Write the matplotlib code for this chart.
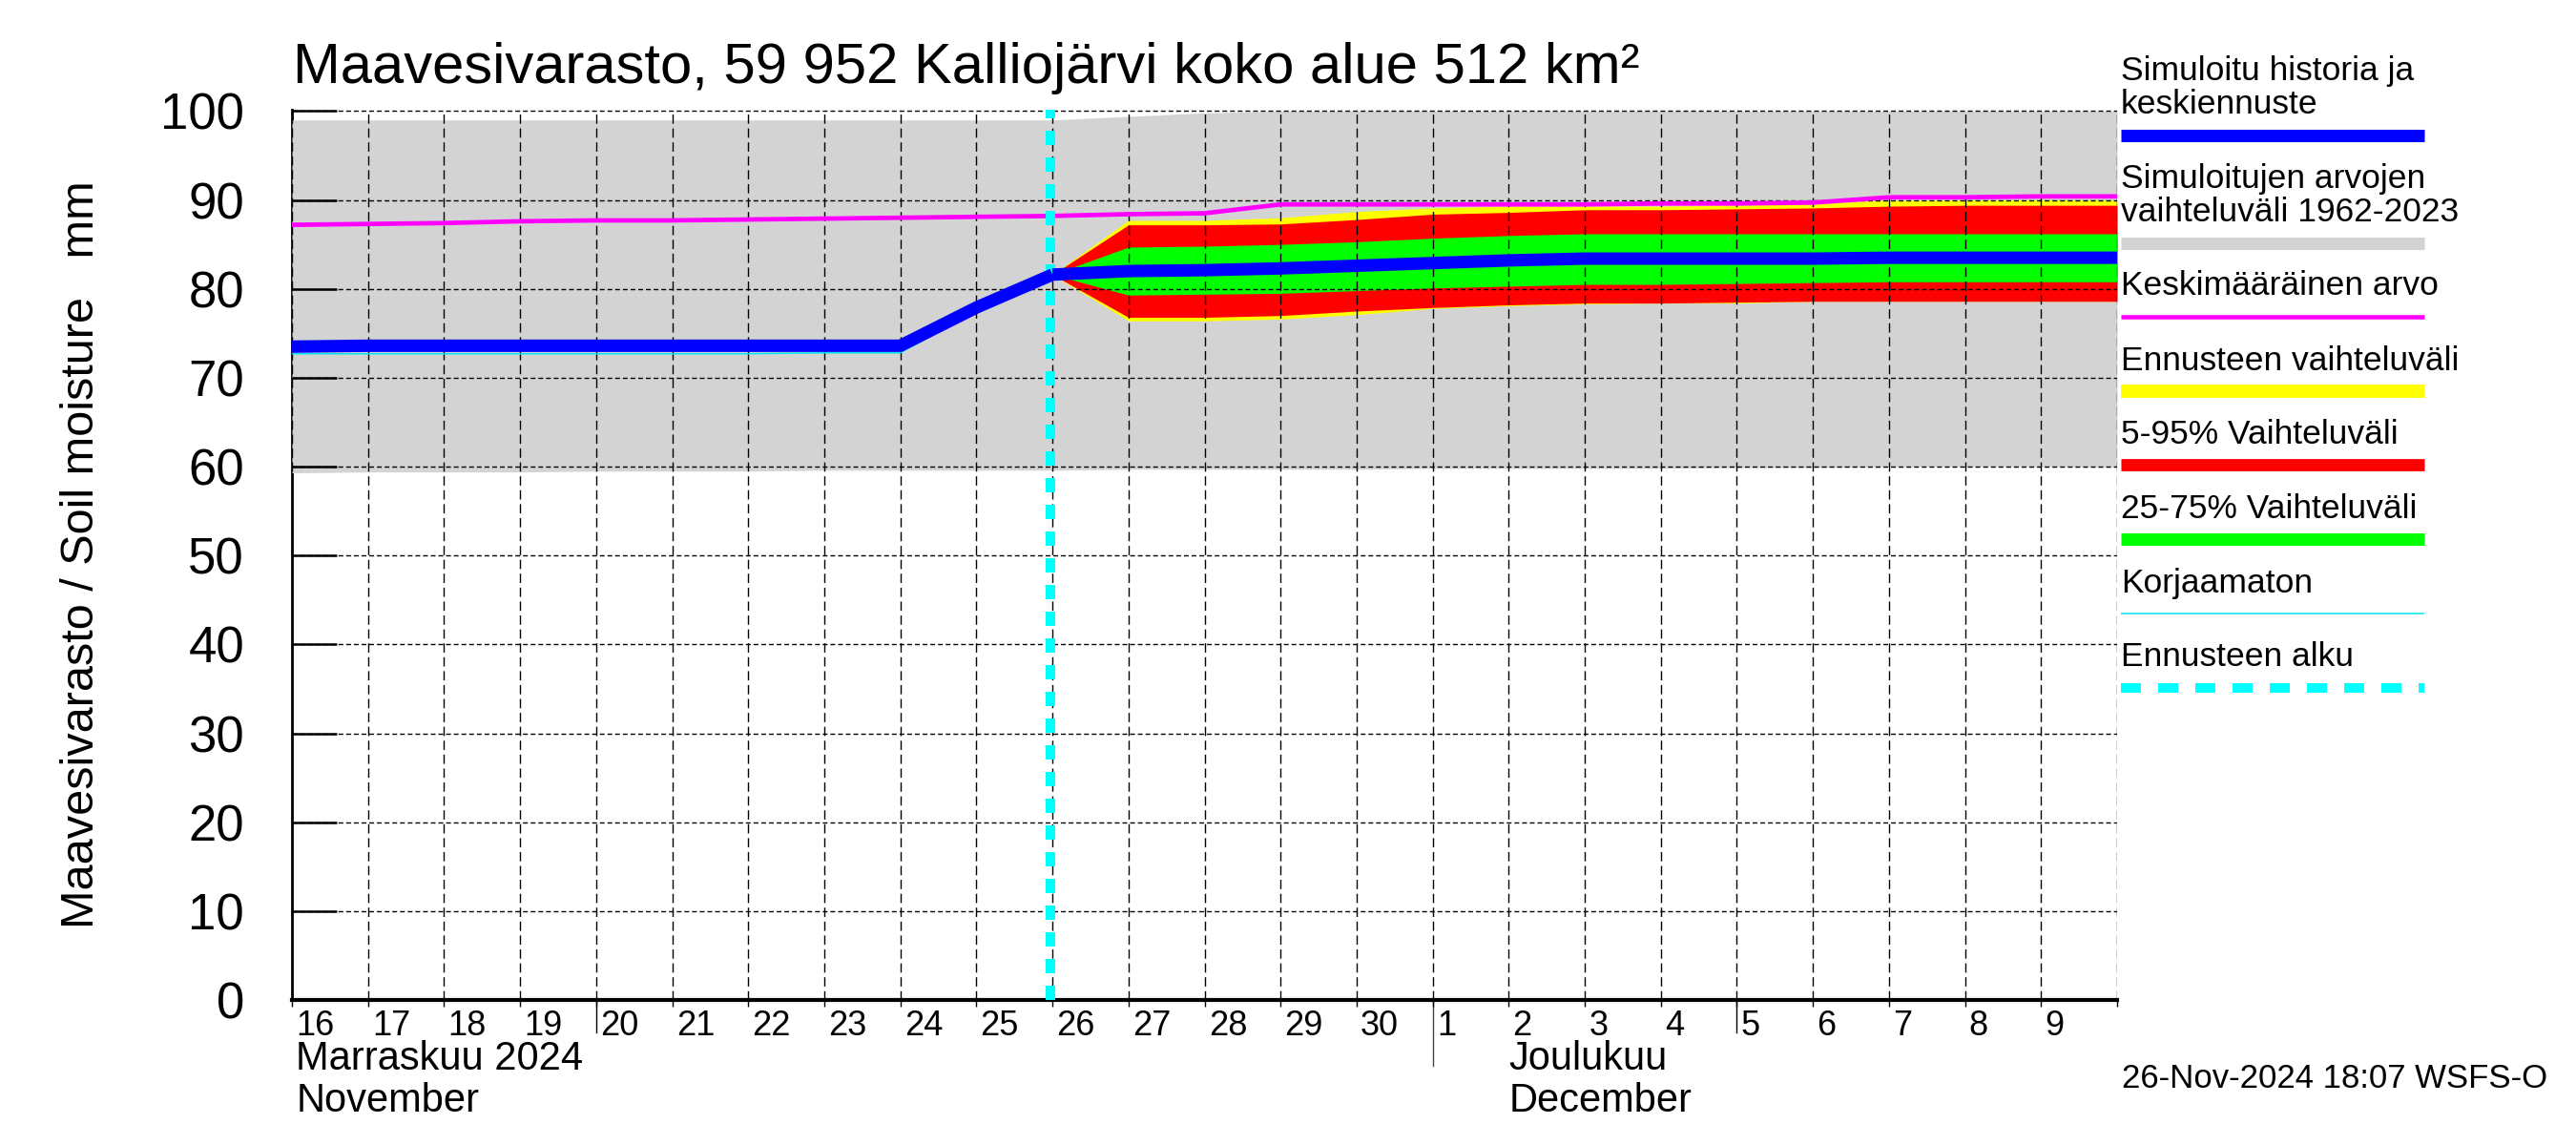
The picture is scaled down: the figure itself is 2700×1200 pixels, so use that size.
import matplotlib
matplotlib.use("Agg")
import matplotlib.pyplot as plt
import matplotlib.transforms as mtransforms
from matplotlib.lines import Line2D

plt.rcParams['font.family'] = ['Liberation Sans', 'DejaVu Sans']

# day 0 = 16 Nov 2024, day 24 = 10 Dec 2024
days = list(range(25))
day_labels = ['16', '17', '18', '19', '20', '21', '22', '23', '24', '25', '26', '27', '28', '29', '30',
              '1', '2', '3', '4', '5', '6', '7', '8', '9']

# simulated range 1962-2023 (grey)
range_top = [99.0, 99.0, 99.0, 99.0, 99.0, 99.0, 99.0, 99.0, 99.0, 99.0, 99.0, 99.4, 99.8,
             100, 100, 100, 100, 100, 100, 100, 100, 100, 100, 100, 100]
range_bot = [59.3, 59.4, 59.4, 59.4, 59.5, 59.5, 59.5, 59.6, 59.6, 59.6, 59.6, 59.7, 59.7,
             59.7, 59.7, 59.8, 59.8, 59.8, 59.8, 59.9, 59.9, 60.0, 60.0, 60.0, 60.0]
# mean value (magenta)
mean_val = [87.2, 87.3, 87.4, 87.6, 87.7, 87.7, 87.8, 87.9, 88.0, 88.1, 88.2, 88.4, 88.5,
            89.5, 89.5, 89.5, 89.5, 89.5, 89.6, 89.6, 89.7, 90.3, 90.3, 90.4, 90.4]

# simulated history
hist_days = list(range(11))
hist = [73.5, 73.6, 73.6, 73.6, 73.6, 73.6, 73.6, 73.6, 73.6, 77.9, 81.6]
uncorr = [72.7, 72.7, 72.7, 72.7, 72.7, 72.7, 72.7, 72.8, 72.8, 77.5, 81.6]

# forecast
fc_days = list(range(10, 25))
fc_mid = [81.6, 82.0, 82.1, 82.3, 82.6, 82.9, 83.2, 83.4, 83.4, 83.4, 83.4, 83.5, 83.5, 83.5, 83.5]
fc_max = [81.6, 87.7, 87.7, 88.0, 88.7, 89.1, 89.3, 89.3, 89.3, 89.4, 89.6, 90.0, 90.0, 90.0, 90.0]
fc_p95 = [81.6, 87.2, 87.2, 87.3, 87.8, 88.4, 88.6, 88.9, 88.9, 89.0, 89.1, 89.3, 89.4, 89.4, 89.4]
fc_p75 = [81.6, 84.7, 84.8, 85.0, 85.3, 85.7, 86.0, 86.2, 86.2, 86.2, 86.2, 86.2, 86.2, 86.2, 86.2]
fc_p25 = [81.6, 79.3, 79.4, 79.5, 79.8, 80.1, 80.3, 80.5, 80.5, 80.6, 80.7, 80.8, 80.8, 80.8, 80.8]
fc_p05 = [81.6, 76.8, 76.8, 77.0, 77.5, 77.9, 78.2, 78.4, 78.4, 78.5, 78.6, 78.6, 78.6, 78.6, 78.6]
fc_min = [81.6, 76.4, 76.4, 76.6, 77.1, 77.8, 78.1, 78.3, 78.4, 78.4, 78.6, 78.6, 78.6, 78.6, 78.6]
fc_start = 9.97

W, H = 2700, 1200
fig = plt.figure(figsize=(27, 12), dpi=100)
ax = fig.add_axes([306 / W, 1 - 1048 / H, (2219 - 306) / W, (1048 - 115) / H])

ax.fill_between(days, range_bot, range_top, color='#d3d3d3', lw=0, zorder=1)
ax.fill_between(fc_days, fc_min, fc_max, color='#ffff00', lw=0, zorder=1.2)
ax.fill_between(fc_days, fc_p05, fc_p95, color='#ff0000', lw=0, zorder=1.3)
ax.fill_between(fc_days, fc_p25, fc_p75, color='#00ff00', lw=0, zorder=1.4)

ax.plot(days, mean_val, color='#ff00ff', lw=3.4, zorder=3)
ax.plot(hist_days, uncorr, color='#00e5ee', lw=1.1, zorder=3.5)
ax.plot(hist_days, hist, color='#0000ff', lw=9.4, zorder=6, solid_capstyle='butt')
ax.plot(fc_days, fc_mid, color='#0000ff', lw=9.4, zorder=6, solid_capstyle='butt')
ax.axvline(fc_start, color='#00ffff', lw=7.2, dashes=(1.5, 1.3), zorder=5)

ax.set_xlim(0, 24)
ax.set_ylim(0, 100.15)
ax.set_xticks(days)
ax.set_xticklabels([])
ax.set_yticks(range(0, 101, 10))
ax.set_axisbelow(False)
ax.grid(axis='x', color='black', lw=1.0, linestyle=(0, (7, 3.5)))
ax.grid(axis='y', color='black', lw=1.0, linestyle=(0, (3.6, 2.2)))
ax.tick_params(axis='y', direction='in', length=34, width=1.8, pad=36, labelsize=38)
ax.tick_params(axis='x', direction='out', length=5, width=1.0)

for s in ['top', 'right']:
    ax.spines[s].set_visible(False)
ax.spines['left'].set_linewidth(2.0)
ax.spines['left'].set_zorder(0.5)
ax.spines['bottom'].set_linewidth(3.0)
ax.spines['bottom'].set_zorder(4)

# date labels under the axis
trans = mtransforms.blended_transform_factory(ax.transData, ax.transAxes)
lab_trans = mtransforms.offset_copy(trans, fig=fig, x=3, y=0, units='points')
for d, lab in zip(days, day_labels):
    ax.text(d, -0.011, lab, transform=lab_trans, ha='left', va='top', fontsize=26)

ax.text(0, -0.078, 'Marraskuu 2024', transform=lab_trans, ha='left', va='baseline', fontsize=30)
ax.text(0, -0.125, 'November', transform=lab_trans, ha='left', va='baseline', fontsize=30)
ax.text(16, -0.078, 'Joulukuu', transform=trans, ha='left', va='baseline', fontsize=30)
ax.text(16, -0.125, 'December', transform=trans, ha='left', va='baseline', fontsize=30)

ax.plot([15, 15], [0, -0.074], transform=trans, color='#444444', lw=1.0, clip_on=False)
for d in [4, 19]:
    ax.plot([d, d], [0, -0.036], transform=trans, color='black', lw=1.0, clip_on=False)

fig.text(307 / W, 1 - 87 / H, 'Maavesivarasto, 59 952 Kalliojärvi koko alue 512 km²',
         fontsize=43, ha='left', va='baseline')
fig.text(86 / W, 1 - 581 / H, 'Maavesivarasto / Soil moisture   mm', rotation=90,
         fontsize=35, ha='center', va='center')

# legend drawn on the right
lx0, lx1 = 2223 / W, 2541 / W
legend_items = [
    (['Simuloitu historia ja', 'keskiennuste'], [84, 119], 141.5, dict(color='#0000ff', lw=9.4)),
    (['Simuloitujen arvojen', 'vaihteluväli 1962-2023'], [197, 232], 254.5, dict(color='#d3d3d3', lw=9.4)),
    (['Keskimääräinen arvo'], [309], 332, dict(color='#ff00ff', lw=3.3)),
    (['Ennusteen vaihteluväli'], [388], 410, dict(color='#ffff00', lw=10)),
    (['5-95% Vaihteluväli'], [465], 487, dict(color='#ff0000', lw=9.2)),
    (['25-75% Vaihteluväli'], [543], 565, dict(color='#00ff00', lw=9.4)),
    (['Korjaamaton'], [621], 643, dict(color='#00e5ee', lw=1.1)),
    (['Ennusteen alku'], [698], 721, dict(color='#00ffff', lw=7.2, dashes=(2.1, 1.8))),
]
for texts, ys, ly, style in legend_items:
    for t, y in zip(texts, ys):
        fig.text(lx0, 1 - y / H, t, fontsize=25.5, ha='left', va='baseline')
    fig.add_artist(Line2D([lx0, lx1], [1 - ly / H, 1 - ly / H], transform=fig.transFigure,
                          solid_capstyle='butt', dash_capstyle='butt', **style))

fig.text(2224 / W, 1 - 1140 / H, '26-Nov-2024 18:07 WSFS-O', fontsize=25, ha='left', va='baseline')

fig.savefig('out.png', dpi=100)
